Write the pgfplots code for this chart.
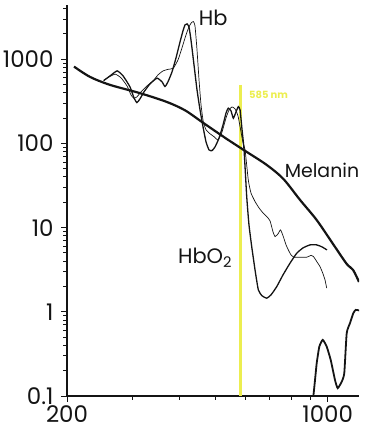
\documentclass[border=0pt]{standalone}
\usepackage{fontspec}
\setmainfont{Poppins}
\usepackage{pgfplots}
\pgfplotsset{compat=1.18}
\definecolor{ylw}{RGB}{236,238,80}
\definecolor{ink}{RGB}{20,20,20}
\begin{document}
\begin{tikzpicture}
\begin{axis}[
  scale only axis, width=292bp, height=391bp,
  xmode=log, ymode=log,
  xmin=200, xmax=1213, ymin=0.1, ymax=4400,
  axis lines=left, axis line style={-, line width=1.4bp, ink},
  xtick={200,1000}, xticklabels={200,1000},
  minor xtick={300,400,500,600,700,800,900},
  ytick={0.1,1,10,100,1000}, yticklabels={0.1,1,10,100,1000},
  minor ytick={0.2,0.3,0.4,0.5,0.6,0.7,0.8,0.9,2,3,4,5,6,7,8,9,20,30,40,50,60,70,80,90,200,300,400,500,600,700,800,900,2000,3000,4000},
  tick align=outside, major tick length=6bp, minor tick length=4bp,
  tick style={ink, line width=0.9bp},
  ticklabel style={font=\fontsize{23}{23}\selectfont, text=ink},
  yticklabel style={xshift=-4bp},
  clip mode=individual,
]
% 585 nm marker
\addplot[ylw, line width=3bp] coordinates {(585,495) (585,0.1)};
% Melanin
\addplot[ink, line width=2.2bp, smooth, tension=0.5] coordinates {
(208.8,817) (230.5,616) (260.9,495) (313.8,395) (370,311) (414.4,247) (463.9,175) (536,113) (600.4,81.5) (686.2,55.5) (760.3,37.9) (843,21.3) (934,12.3) (1033,6.40) (1124,3.71) (1169,3.15) (1213,2.26)};
% HbO2
\addplot[ink, line width=1.3bp, smooth, tension=0.3] coordinates {
(250.8,557) (260.8,633) (272.5,726) (282.7,633) (295,469) (302.4,347) (308,305) (313.8,338) (321.7,409) (333.8,509) (348.6,595) (359.6,538) (366.2,473) (373,538) (382.4,707) (392,1036) (401.8,1606) (409.2,2168) (414.4,2555) (419.5,2625) (424.6,2419) (429.9,1695) (438,856) (446.2,432) (454.6,250) (463.1,157) (471.8,104) (480.6,83.7) (489.6,82.1) (498.8,90.9) (511.3,116) (524,166) (533.8,230) (541.2,262) (550.5,243) (558.4,199) (567.8,237) (575.8,273) (582,250) (589.3,145) (596.6,83.7) (606.5,23.3) (615,10.8) (625.5,5.94) (638.4,3.15) (651.6,1.82) (666.6,1.55) (686.2,1.45) (704.8,1.59) (730,1.99) (758.8,2.74) (792.4,3.78) (825.8,4.96) (858.6,5.74) (896.4,6.23) (934.2,6.23) (965.4,5.90) (995.4,5.43)};
% Hb
\addplot[ink, line width=0.7bp, smooth, tension=0.3] coordinates {
(250.8,557) (259.2,616) (269.4,664) (279.2,600) (289.6,482) (296.8,377) (301.9,344) (308,357) (315.8,409) (327.6,482) (340.2,552) (350.8,651) (361.8,726) (373,757) (385.5,782) (396.9,981) (406.7,1362) (416.9,1944) (424.6,2419) (431.4,2735) (436.4,2796) (440.7,2486) (446.2,1290) (451.8,568) (457.4,287) (463.9,180) (471.8,145) (483.6,130) (495.7,120) (508.1,110) (520.8,137) (533.8,201) (543.8,250) (553.9,271) (564.2,257) (574.7,212) (585.5,137) (593,101) (600.4,83.7) (612.4,36.8) (622.6,25.8) (638.4,20.4) (654.5,17.1) (671.8,14.8) (687.6,13.4) (700.5,12.0) (713.5,8.89) (722.4,7.82) (735.8,8.41) (747.3,9.39) (760.3,7.82) (773.2,6.23) (784.2,5.43) (797.3,4.74) (812.4,4.45) (843.2,4.45) (878.4,4.45) (902.2,4.68) (915,4.55) (936,3.91) (953.6,3.44) (971.4,2.82) (983.4,2.39) (993.6,1.91)};
% bottom curve
\addplot[ink, line width=1.8bp, smooth, tension=0.3] coordinates {
(913,0.09) (924.6,0.155) (934.2,0.245) (949.4,0.386) (969.6,0.464) (993.6,0.386) (1018.6,0.268) (1045.8,0.155) (1063.4,0.124) (1090.2,0.148) (1107.6,0.187) (1124.2,0.557) (1147.2,0.732) (1171,0.962) (1188.6,1.054) (1215,1.036)};
% labels
\node[font=\fontsize{21}{21}\selectfont, text=ink] at (axis cs:493,3094) {Hb};
\node[font=\fontsize{19}{19}\selectfont, text=ink] at (axis cs:965,48.4) {Melanin};
\node[font=\fontsize{21}{21}\selectfont, text=ink] at (axis cs:469,4.37) {HbO\textsubscript{2}};
\node[font=\bfseries\fontsize{10}{10}\selectfont, text=ylw, anchor=west, inner sep=0pt] at (axis cs:615,377) {585 nm};
\end{axis}
\pgfresetboundingbox
\path[use as bounding box] ([xshift=-67bp,yshift=-39bp]current axis.south west) rectangle ([xshift=16bp,yshift=5bp]current axis.north east);
\end{tikzpicture}
\end{document}
